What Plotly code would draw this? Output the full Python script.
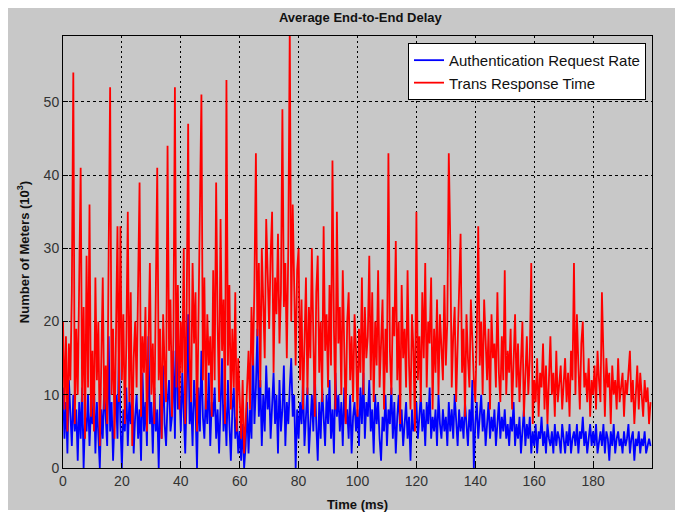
import numpy as np
import plotly.graph_objects as go

# time step 0.5 ms, 400 samples
time_ms = np.arange(400) * 0.5

auth_request_rate = [
    11, 4, 9, 2, 12, 6, 3, 10, 5, 8, 1, 9, 4, 11, 0, 7, 5, 10, 3, 8,
    6, 12, 2, 9, 5, 0, 8, 4, 11, 6, 3, 18, 5, 9, 1, 7, 10, 4, 16, 6,
    0, 8, 5, 11, 3, 9, 6, 12, 2, 7, 10, 4, 8, 1, 13, 5, 9, 3, 18, 6,
    9, 2, 11, 5, 8, 0, 10, 4, 14, 6, 3, 9, 12, 5, 7, 16, 4, 20, 8, 11,
    5, 13, 7, 2, 10, 21, 6, 9, 3, 12, 8, 0, 11, 5, 16, 7, 4, 10, 6, 13,
    3, 9, 7, 11, 4, 8, 2, 10, 15, 5, 9, 3, 12, 6, 1, 8, 11, 4, 7, 2,
    5, 1, 6, 0, 3, 9, 2, 8, 4, 17, 6, 11, 19, 7, 12, 3, 10, 5, 14, 8,
    11, 4, 9, 13, 6, 10, 2, 12, 5, 8, 14, 3, 9, 6, 11, 15, 7, 10, 0, 8,
    4, 9, 6, 12, 3, 8, 11, 2, 7, 10, 5, 13, 6, 1, 9, 4, 11, 7, 3, 10,
    6, 12, 4, 8, 2, 13, 7, 10, 5, 9, 3, 11, 6, 8, 4, 10, 2, 7, 9, 5,
    8, 3, 11, 6, 13, 4, 9, 7, 12, 5, 8, 2, 10, 6, 9, 4, 1, 7, 5, 10,
    3, 8, 6, 11, 4, 9, 2, 7, 10, 5, 8, 3, 6, 9, 4, 7, 1, 8, 5, 6,
    9, 4, 7, 10, 5, 8, 3, 9, 6, 11, 4, 7, 5, 8, 3, 10, 6, 4, 8, 5,
    7, 3, 9, 5, 8, 4, 10, 6, 3, 8, 5, 7, 4, 9, 6, 3, 8, 5, 12, 0,
    6, 9, 4, 7, 10, 5, 8, 3, 6, 9, 4, 7, 5, 8, 3, 6, 9, 4, 7, 5,
    8, 4, 6, 3, 7, 5, 9, 3, 6, 4, 7, 2, 5, 8, 3, 6, 4, 7, 2, 5,
    3, 6, 2, 5, 4, 7, 3, 5, 2, 6, 4, 3, 5, 2, 6, 3, 5, 4, 2, 6,
    4, 2, 5, 3, 6, 2, 4, 5, 3, 6, 2, 5, 4, 7, 3, 5, 2, 4, 6, 3,
    5, 3, 6, 2, 4, 5, 3, 6, 2, 5, 4, 1, 5, 3, 6, 2, 4, 5, 3, 4,
    2, 5, 3, 4, 6, 2, 4, 5, 1, 4, 3, 5, 2, 4, 3, 5, 2, 3, 4, 3,
]

trans_response_time = [
    20, 8, 18, 5, 17, 12, 24, 54, 6, 19, 10, 26, 41, 9, 22, 4, 29, 11, 36, 7,
    16, 5, 26, 12, 20, 3, 18, 26, 8, 14, 6, 27, 52, 10, 19, 4, 23, 33, 9, 33,
    12, 21, 6, 17, 35, 9, 24, 3, 15, 20, 11, 25, 39, 7, 18, 13, 22, 5, 19, 28,
    10, 17, 6, 24, 41, 12, 19, 4, 21, 14, 9, 44, 16, 23, 7, 18, 52, 11, 25, 8,
    20, 13, 30, 6, 22, 47, 15, 9, 28, 17, 24, 5, 19, 33, 51, 12, 26, 8, 21, 14,
    18, 7, 27, 12, 39, 20, 9, 34, 16, 23, 6, 53, 14, 25, 8, 19, 11, 24, 5, 15,
    9, 4, 12, 2, 6, 10, 16, 8, 22, 14, 25, 43, 18, 28, 11, 30, 20, 15, 34, 24,
    19, 29, 35, 13, 26, 21, 32, 17, 24, 49, 22, 28, 15, 30, 60, 20, 36, 25, 14, 27,
    30, 12, 23, 8, 19, 26, 10, 22, 15, 30, 18, 7, 24, 29, 13, 20, 9, 33, 16, 21,
    11, 25, 14, 42, 19, 8, 35, 17, 22, 10, 27, 15, 6, 20, 24, 12, 18, 9, 21, 16,
    7, 19, 13, 26, 10, 22, 15, 18, 29, 12, 24, 9, 20, 14, 27, 11, 17, 23, 8, 19,
    13, 43, 16, 10, 22, 18, 31, 12, 20, 6, 25, 15, 19, 11, 27, 14, 8, 21, 16, 5,
    35, 12, 18, 9, 24, 15, 28, 11, 20, 17, 26, 8, 19, 13, 23, 10, 21, 16, 12, 25,
    14, 20, 43, 31, 11, 18, 22, 9, 16, 24, 32, 13, 19, 7, 21, 15, 11, 23, 17, 12,
    9, 18, 33, 14, 20, 10, 23, 16, 12, 19, 8, 21, 15, 17, 11, 24, 13, 9, 18, 12,
    27, 10, 16, 13, 19, 8, 15, 21, 11, 17, 9, 14, 20, 7, 13, 18, 10, 15, 28, 6,
    12, 9, 15, 7, 13, 11, 17, 8, 14, 6, 12, 18, 10, 13, 7, 16, 9, 12, 14, 8,
    11, 15, 9, 13, 7, 16, 12, 28, 10, 21, 14, 8, 17, 20, 11, 13, 9, 15, 7, 12,
    10, 14, 8, 16, 12, 9, 24, 13, 7, 15, 11, 13, 6, 14, 10, 12, 8, 15, 9, 11,
    13, 7, 12, 10, 14, 16, 9, 12, 6, 11, 14, 8, 13, 10, 7, 12, 9, 11, 6, 9,
]

x_ticks = [0, 20, 40, 60, 80, 100, 120, 140, 160, 180]
y_ticks = [0, 10, 20, 30, 40, 50]

FONT = "Liberation Sans, Arial, sans-serif"

fig = go.Figure()
fig.add_trace(go.Scatter(x=time_ms, y=auth_request_rate, mode="lines",
                         name="Authentication Request Rate",
                         line=dict(color="#0000ff", width=1.8)))
fig.add_trace(go.Scatter(x=time_ms, y=trans_response_time, mode="lines",
                         name="Trans Response Time",
                         line=dict(color="#ff0000", width=1.8)))

# page body adds an 8px offset; figure is 675x505 so that the axes land at
# x 63..652, y 36..468 in the window
fig.update_layout(
    width=675, height=505,
    paper_bgcolor="white",
    plot_bgcolor="white",
    margin=dict(l=55, r=31, t=28, b=45, autoexpand=False),
    font=dict(family=FONT, size=13, color="#1a1a1a"),
    title=dict(text="<b>Average End-to-End Delay</b>", x=0.522, xanchor="center",
               y=1 - 9 / 505, yanchor="middle",
               font=dict(family=FONT, size=13, color="#111111")),
    showlegend=True,
    legend=dict(x=(408 - 63) / 589, y=0.984, xanchor="left", yanchor="top",
                bgcolor="white", bordercolor="black", borderwidth=1,
                font=dict(family=FONT, size=15, color="#111111"),
                tracegroupgap=0, itemwidth=30),
    shapes=[dict(type="rect", xref="paper", yref="paper",
                 x0=-55 / 589, x1=1 + 23 / 589, y0=-42 / 432, y1=1 + 28 / 432,
                 fillcolor="#c8c8c8", line=dict(width=0), layer="below")],
)

fig.update_xaxes(
    range=[0, 200], tickvals=x_ticks, ticktext=[str(v) for v in x_ticks],
    showline=True, linecolor="black", linewidth=1, mirror=True,
    ticks="inside", ticklen=5, tickcolor="black",
    showgrid=True, gridcolor="black", gridwidth=1, griddash="2px,3px",
    zeroline=False, automargin=False,
    tickfont=dict(family=FONT, size=14, color="#333333"),
    title=dict(text="<b>Time (ms)</b>", standoff=12,
               font=dict(family=FONT, size=13, color="#111111")),
)
fig.update_yaxes(
    range=[0, 59], tickvals=y_ticks, ticktext=[str(v) for v in y_ticks],
    showline=True, linecolor="black", linewidth=1, mirror=True,
    ticks="inside", ticklen=5, tickcolor="black",
    showgrid=True, gridcolor="black", gridwidth=1, griddash="3px,3px",
    zeroline=False, automargin=False,
    tickfont=dict(family=FONT, size=14, color="#333333"),
    title=dict(text="<b>Number of Meters (10<sup>3</sup>)</b>", standoff=11,
               font=dict(family=FONT, size=13, color="#111111")),
)

fig.write_html("out.html")
